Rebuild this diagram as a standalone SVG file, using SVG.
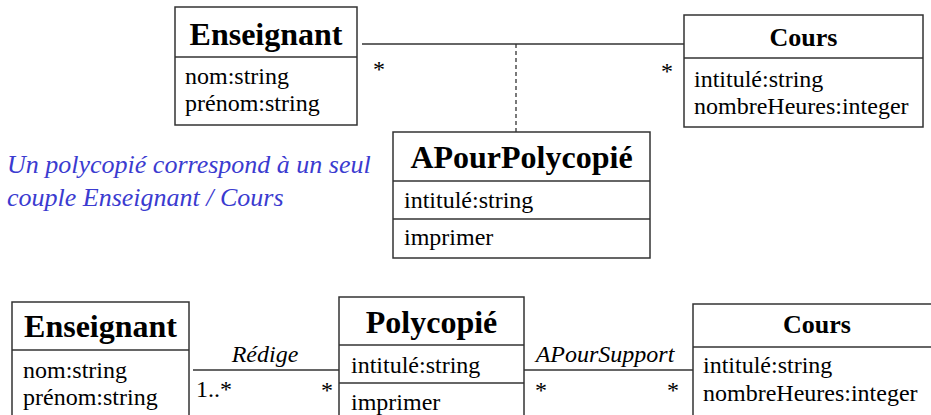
<svg xmlns="http://www.w3.org/2000/svg" width="931" height="415" viewBox="0 0 931 415">
<style>
.box{fill:#fff;stroke:#333;stroke-width:1.5}
.sep{stroke:#333;stroke-width:1.5}
.ln{stroke:#333;stroke-width:1.5;fill:none}
.dash{stroke:#333;stroke-width:1.3;stroke-dasharray:4 3;fill:none}
text{font-family:'Liberation Serif','DejaVu Serif',serif}
.t{font-size:24px;fill:#000}
.h{font-weight:bold;font-size:32px;fill:#000;text-anchor:middle}
.hs{font-size:26px}
.i{font-style:italic;font-size:24px;fill:#000}
.note{font-style:italic;font-size:26px;fill:#3b3bd0}
</style>
<rect width="931" height="415" fill="#fff"/>
<g id="connectors" font-family="Liberation Serif, serif">
<line class="ln" x1="362" y1="44" x2="684" y2="44"/>
<line class="dash" x1="516" y1="44" x2="516" y2="132"/>
<text class="t" x="373" y="77">*</text>
<text class="t" x="661" y="79">*</text>
<line class="ln" x1="193" y1="370" x2="339" y2="370"/>
<text class="i" x="265" y="362" text-anchor="middle" font-size="26">Rédige</text>
<text class="t" x="196" y="397">1..*</text>
<text class="t" x="321" y="398">*</text>
<line class="ln" x1="524" y1="370" x2="693" y2="370"/>
<text class="i" x="605" y="362" text-anchor="middle">APourSupport</text>
<text class="t" x="535" y="398">*</text>
<text class="t" x="667" y="398">*</text>
</g>
<g id="enseignant-top">
<rect class="box" x="175" y="7" width="182" height="118"/>
<line class="sep" x1="175" y1="57" x2="357" y2="57"/>
<text class="h" x="266" y="45">Enseignant</text>
<text class="t" x="185" y="84">nom:string</text>
<text class="t" x="185" y="111">prénom:string</text>
</g>
<g id="cours-top">
<rect class="box" x="684" y="15" width="239" height="112"/>
<line class="sep" x1="684" y1="58" x2="923" y2="58"/>
<text class="h hs" x="803.5" y="46">Cours</text>
<text class="t" x="694" y="87">intitulé:string</text>
<text class="t" x="694" y="114">nombreHeures:integer</text>
</g>
<g id="apourpolycopie">
<rect class="box" x="393" y="132" width="257" height="126"/>
<line class="sep" x1="393" y1="181" x2="650" y2="181"/>
<line class="sep" x1="393" y1="219" x2="650" y2="219"/>
<text class="h" x="521.5" y="168" font-size="31">APourPolycopié</text>
<text class="t" x="404" y="208">intitulé:string</text>
<text class="t" x="404" y="245">imprimer</text>
</g>
<g id="note">
<text class="note" x="7" y="173">Un polycopié correspond à un seul</text>
<text class="note" x="7" y="206">couple Enseignant / Cours</text>
</g>
<g id="enseignant-bottom">
<rect class="box" x="12" y="302" width="177" height="130"/>
<line class="sep" x1="12" y1="350" x2="189" y2="350"/>
<text class="h" x="100.5" y="337">Enseignant</text>
<text class="t" x="23" y="378">nom:string</text>
<text class="t" x="23" y="405">prénom:string</text>
</g>
<g id="polycopie">
<rect class="box" x="339" y="297" width="185" height="130"/>
<line class="sep" x1="339" y1="345" x2="524" y2="345"/>
<line class="sep" x1="339" y1="383" x2="524" y2="383"/>
<text class="h" x="431.5" y="333">Polycopié</text>
<text class="t" x="351" y="373">intitulé:string</text>
<text class="t" x="351" y="410">imprimer</text>
</g>
<g id="cours-bottom">
<rect class="box" x="693" y="304" width="248" height="130"/>
<line class="sep" x1="693" y1="347" x2="941" y2="347"/>
<text class="h hs" x="817" y="333">Cours</text>
<text class="t" x="703" y="373">intitulé:string</text>
<text class="t" x="703" y="401">nombreHeures:integer</text>
</g>
</svg>
